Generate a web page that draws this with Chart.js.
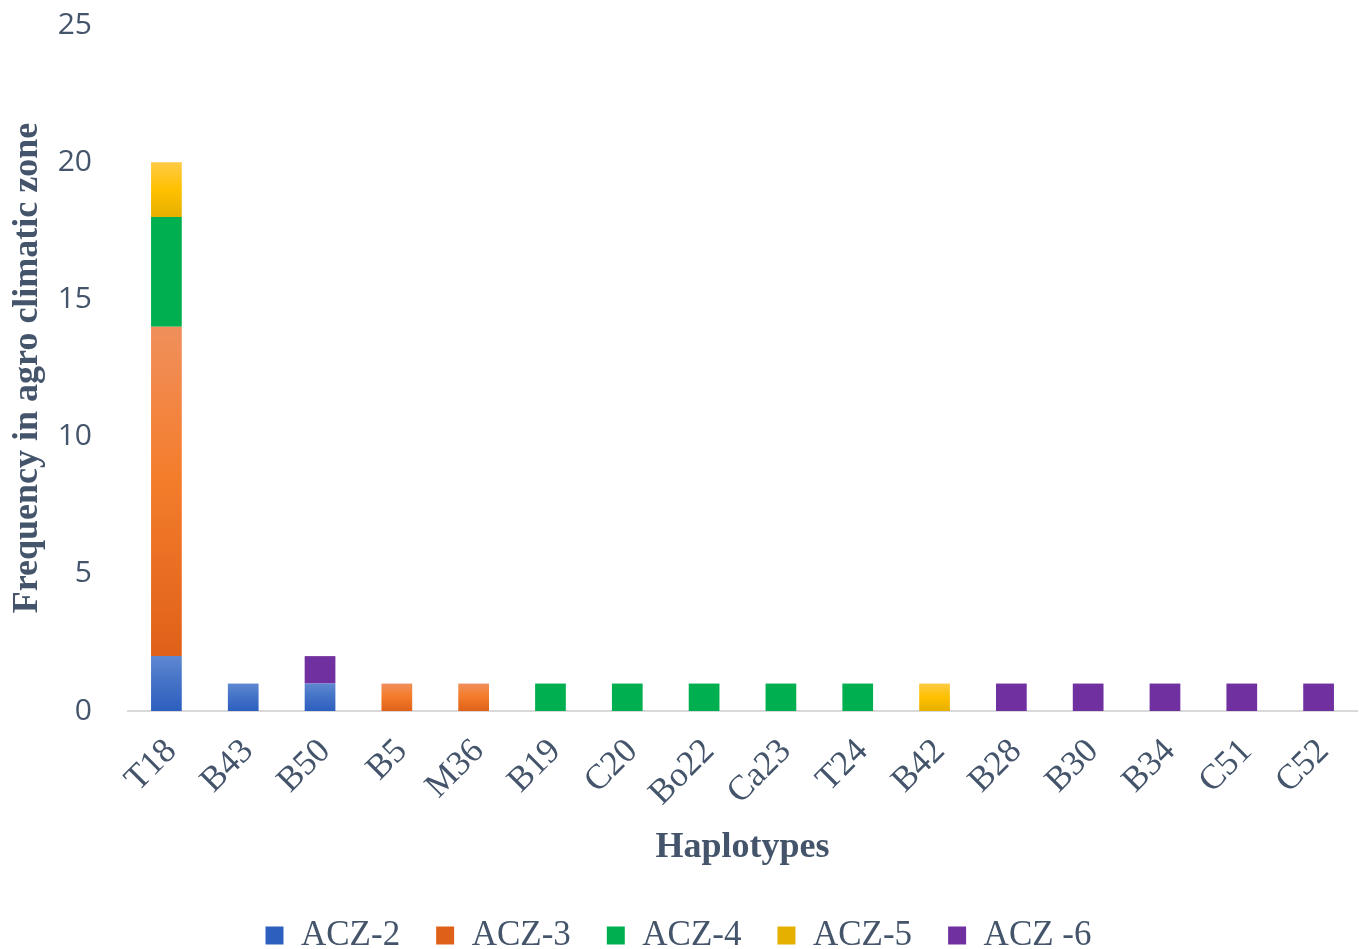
<!DOCTYPE html>
<html>
<head>
<meta charset="utf-8">
<script src="https://cdn.jsdelivr.net/npm/chart.js@4.4.1/dist/chart.umd.min.js"></script>
<style>
  html, body { margin: 0; padding: 0; background: #fff; }
  #wrap { width: 1359px; height: 949px; }
</style>
</head>
<body>
<div id="wrap"><canvas id="haplo"></canvas></div>
<script>
// Haplotype frequency per agro climatic zone (stacked)
const haplotypes = ['T18', 'B43', 'B50', 'B5', 'M36', 'B19', 'C20', 'Bo22', 'Ca23', 'T24', 'B42', 'B28', 'B30', 'B34', 'C51', 'C52'];
const acz2 = [2, 1, 1, 0, 0, 0, 0, 0, 0, 0, 0, 0, 0, 0, 0, 0];
const acz3 = [12, 0, 0, 1, 1, 0, 0, 0, 0, 0, 0, 0, 0, 0, 0, 0];
const acz4 = [4, 0, 0, 0, 0, 1, 1, 1, 1, 1, 0, 0, 0, 0, 0, 0];
const acz5 = [2, 0, 0, 0, 0, 0, 0, 0, 0, 0, 1, 0, 0, 0, 0, 0];
const acz6 = [0, 0, 1, 0, 0, 0, 0, 0, 0, 0, 0, 1, 1, 1, 1, 1];
const zoneNames = ['ACZ-2', 'ACZ-3', 'ACZ-4', 'ACZ-5', 'ACZ -6'];
const yTicks = [0, 5, 10, 15, 20, 25];

const TEXT = '#44546a';
const SERIF = '"Liberation Serif", "Times New Roman", serif';

// vertical shading per segment: light on top, darker at the base
function shade(stops, flat) {
  return function (c) {
    const chart = c.chart;
    if (c.type !== 'data' || !chart.chartArea || !c.raw) return flat;
    const y = chart.scales.y;
    let base = 0;
    for (let i = 0; i < c.datasetIndex; i++) {
      base += chart.data.datasets[i].data[c.dataIndex] || 0;
    }
    const top = y.getPixelForValue(base + c.raw);
    const bottom = y.getPixelForValue(base);
    if (!(bottom > top)) return flat;
    const g = chart.ctx.createLinearGradient(0, top, 0, bottom);
    stops.forEach(s => g.addColorStop(s[0], s[1]));
    return g;
  };
}

const fills = [
  shade([[0, '#5f88d1'], [0.5, '#4271c6'], [1, '#2d5fbf']], '#4472c4'),
  shade([[0, '#f08f5c'], [0.45, '#f47d2c'], [1, '#df6119']], '#ed7d31'),
  '#00b050',
  shade([[0, '#fdca45'], [0.5, '#ffc000'], [1, '#e6b000']], '#ffc000'),
  '#7030a0',
];

const series = [acz2, acz3, acz4, acz5, acz6];

new Chart(document.getElementById('haplo'), {
  type: 'bar',
  data: {
    labels: haplotypes,
    datasets: series.map((d, i) => ({
      label: zoneNames[i],
      data: d,
      backgroundColor: fills[i],
      borderWidth: 0,
      barPercentage: 0.4,
      categoryPercentage: 1,
    })),
  },
  options: {
    responsive: true,
    maintainAspectRatio: false,
    animation: false,
    layout: { padding: { top: 25, right: 2, left: 0, bottom: -14 } },
    plugins: {
      tooltip: { enabled: false },
      legend: {
        position: 'bottom',
        labels: {
          color: TEXT,
          font: { family: SERIF, size: 35 },
          boxWidth: 18,
          boxHeight: 18,
          padding: 36,
        },
      },
    },
    scales: {
      x: {
        stacked: true,
        grid: { display: false, drawTicks: false },
        border: { display: true, color: '#d9d9d9', width: 2 },
        ticks: {
          color: TEXT,
          font: { family: SERIF, size: 35 },
          minRotation: 45,
          maxRotation: 45,
          autoSkip: false,
          padding: 20,
          labelOffset: 5,
        },
        title: {
          display: true,
          text: 'Haplotypes',
          color: TEXT,
          font: { family: SERIF, size: 36, weight: 'bold' },
          padding: { top: 0, bottom: 13 },
        },
        afterFit: s => {
          s.height = 171;
          s.paddingLeft = 0;
          s.paddingRight = 0;
        },
      },
      y: {
        stacked: true,
        min: 0,
        max: 25,
        afterBuildTicks: axis => { axis.ticks = yTicks.map(v => ({ value: v })); },
        grid: { display: false, drawTicks: false },
        border: { display: false },
        ticks: {
          color: TEXT,
          font: { family: '"Open Sans", sans-serif', size: 30 },
          padding: 36,
        },
        title: {
          display: true,
          text: 'Frequency in agro climatic zone',
          color: TEXT,
          font: { family: SERIF, size: 36, weight: 'bold' },
          padding: { top: 6, bottom: 0 },
        },
        afterFit: s => {
          s.width = 128;
          s.paddingTop = 0;
          s.paddingBottom = 0;
        },
      },
    },
  },
});
</script>
</body>
</html>
